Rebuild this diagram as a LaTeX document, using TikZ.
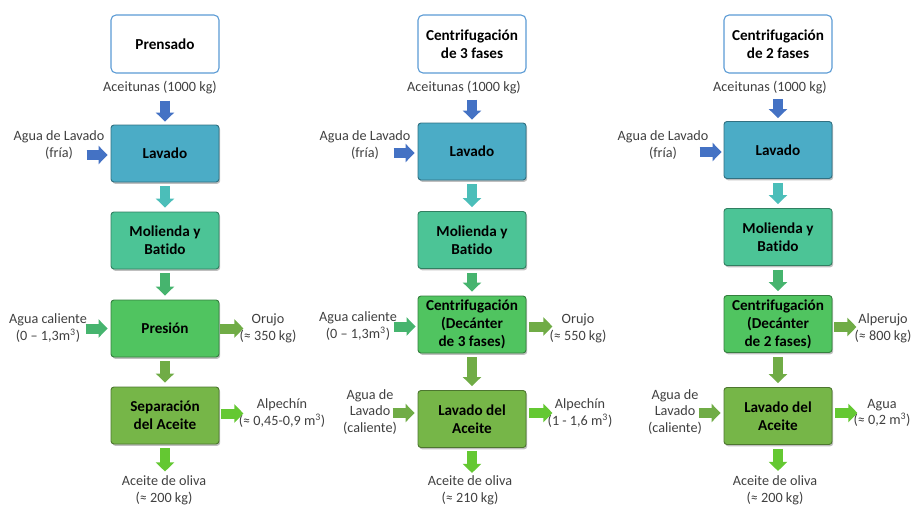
\documentclass[tikz,border=0pt]{standalone}
\usepackage{fontspec}
\setmainfont[Ligatures={NoCommon}]{Carlito}
\usetikzlibrary{arrows.meta,shadows}

\definecolor{headblue}{RGB}{91,155,213}
\definecolor{labelgray}{RGB}{64,64,64}
\definecolor{lavC}{RGB}{75,172,198}
\definecolor{molC}{RGB}{76,196,150}
\definecolor{preC}{RGB}{80,196,96}
\definecolor{sepC}{RGB}{118,182,72}
\definecolor{blueA}{RGB}{68,114,196}
\definecolor{tealA}{RGB}{75,190,185}
\definecolor{greenA}{RGB}{70,180,110}
\definecolor{oliveA}{RGB}{112,172,70}
\definecolor{limeA}{RGB}{100,200,50}

\begin{document}
\begin{tikzpicture}[x=1pt,y=-1pt,
  lbl/.style={align=center, inner sep=0pt, text=labelgray,
    font=\fontsize{14.2}{16.8}\selectfont},
  head/.style={draw=headblue, line width=1.1pt, rounded corners=5pt, fill=white,
    minimum width=108pt, minimum height=58pt, align=center,
    font=\fontsize{15.2}{18}\selectfont\bfseries},
  stepbox/.style={rounded corners=3pt, minimum width=108pt, minimum height=57pt,
    align=center, font=\fontsize{15.2}{18}\selectfont\bfseries,
    fill=#1, draw=#1!65!black, line width=0.9pt,
    drop shadow={shadow xshift=1.2pt, shadow yshift=-1.8pt, opacity=0.5}},
  flow/.style={draw=#1, line width=10pt, -{Triangle[length=9pt,width=18pt]}}
]
\useasboundingbox (0,0) rectangle (914,506);

% ---------------- Prensado ----------------
\node[head] (h1) at (165,44) {Prensado};
\node[lbl] (in1) at (160,88) {Aceitunas (1000 kg)};
\node[stepbox=lavC] (lav1) at (165,153.5) {Lavado};
\node[lbl] (wa1) at (59,145) {Agua de Lavado\\(fría)};
\node[stepbox=molC] (mol1) at (165,240.5) {Molienda y\\Batido};
\node[stepbox=preC] (pre1) at (165,328.5) {Presión};
\node[lbl] (ac1) at (48,328) {Agua caliente\\(0 – 1,3m\textsuperscript{3})};
\node[lbl] (or1) at (268,328) {Orujo\\(≈ 350 kg)};
\node[stepbox=sepC] (sep1) at (165,415.5) {Separación\\del Aceite};
\node[lbl] (al1) at (282,413) {Alpechín\\(≈ 0,45-0,9 m\textsuperscript{3})};
\node[lbl] (ao1) at (164,490) {Aceite de oliva\\(≈ 200 kg)};

\draw[flow=blueA] ([yshift=24pt]lav1.north) -- ([yshift=3pt]lav1.north);
\draw[flow=blueA] ([xshift=-24pt,yshift=-1.5pt]lav1.west) -- ([xshift=-3pt,yshift=-1.5pt]lav1.west);
\draw[flow=tealA] ([yshift=-4pt]lav1.south) -- ([yshift=4pt]mol1.north);
\draw[flow=greenA] ([yshift=-4pt]mol1.south) -- ([yshift=4pt]pre1.north);
\draw[flow=greenA] ([xshift=-25pt]pre1.west) -- ([xshift=-3pt]pre1.west);
\draw[flow=oliveA] ([xshift=1pt]pre1.east) -- ([xshift=24pt]pre1.east);
\draw[flow=oliveA] ([yshift=-4pt]pre1.south) -- ([yshift=4pt]sep1.north);
\draw[flow=limeA] ([xshift=2pt,yshift=2pt]sep1.east) -- ([xshift=24pt,yshift=2pt]sep1.east);
\draw[flow=limeA] ([yshift=-4pt]sep1.south) -- ([yshift=-27pt]sep1.south);

% ---------------- Centrifugación de 3 fases ----------------
\node[head] (h2) at (472,44) {Centrifugación\\de 3 fases};
\node[lbl] (in2) at (464,88) {Aceitunas (1000 kg)};
\node[stepbox=lavC] (lav2) at (472,151.5) {Lavado};
\node[lbl] (wa2) at (365,145) {Agua de Lavado\\(fría)};
\node[stepbox=molC] (mol2) at (472,240) {Molienda y\\Batido};
\node[stepbox=preC] (cen2) at (472,324.5) {Centrifugación\\(Decánter\\de 3 fases)};
\node[lbl] (ac2) at (358,326) {Agua caliente\\(0 – 1,3m\textsuperscript{3})};
\node[lbl] (or2) at (578,328) {Orujo\\(≈ 550 kg)};
\node[stepbox=sepC] (lva2) at (472,419) {Lavado del\\Aceite};
\node[lbl] (wl2) at (370,412) {Agua de\\Lavado\\(caliente)};
\node[lbl] (al2) at (580,413) {Alpechín\\(1 - 1,6 m\textsuperscript{3})};
\node[lbl] (ao2) at (470,490) {Aceite de oliva\\(≈ 210 kg)};

\draw[flow=blueA] ([yshift=23pt]lav2.north) -- ([yshift=3pt]lav2.north);
\draw[flow=blueA] ([xshift=-24pt,yshift=-1.5pt]lav2.west) -- ([xshift=-3pt,yshift=-1.5pt]lav2.west);
\draw[flow=tealA] ([yshift=-4pt]lav2.south) -- ([yshift=4pt]mol2.north);
\draw[flow=greenA] ([yshift=-4pt]mol2.south) -- ([yshift=4pt]cen2.north);
\draw[flow=greenA] ([xshift=-24pt,yshift=-2pt]cen2.west) -- ([xshift=-2pt,yshift=-2pt]cen2.west);
\draw[flow=oliveA] ([xshift=3pt,yshift=-2pt]cen2.east) -- ([xshift=26pt,yshift=-2pt]cen2.east);
\draw[flow=oliveA] ([yshift=-4pt]cen2.south) -- ([yshift=4pt]lva2.north);
\draw[flow=oliveA] ([xshift=-25pt,yshift=6pt]lva2.west) -- ([xshift=-3pt,yshift=6pt]lva2.west);
\draw[flow=limeA] ([xshift=3pt,yshift=6pt]lva2.east) -- ([xshift=26pt,yshift=6pt]lva2.east);
\draw[flow=limeA] ([yshift=-3pt]lva2.south) -- ([yshift=-25pt]lva2.south);

% ---------------- Centrifugación de 2 fases ----------------
\node[head] (h3) at (778,44) {Centrifugación\\de 2 fases};
\node[lbl] (in3) at (770,88) {Aceitunas (1000 kg)};
\node[stepbox=lavC] (lav3) at (778,150) {Lavado};
\node[lbl] (wa3) at (663,145) {Agua de Lavado\\(fría)};
\node[stepbox=molC] (mol3) at (778,237) {Molienda y\\Batido};
\node[stepbox=preC] (cen3) at (778,324) {Centrifugación\\(Decánter\\de 2 fases)};
\node[lbl] (ap3) at (883,328) {Alperujo\\(≈ 800 kg)};
\node[stepbox=sepC] (lva3) at (778,416) {Lavado del\\Aceite};
\node[lbl] (wl3) at (675,412) {Agua de\\Lavado\\(caliente)};
\node[lbl] (ag3) at (882,413) {Agua\\(≈ 0,2 m\textsuperscript{3})};
\node[lbl] (ao3) at (775,490) {Aceite de oliva\\(≈ 200 kg)};

\draw[flow=blueA] ([yshift=22pt]lav3.north) -- ([yshift=3pt]lav3.north);
\draw[flow=blueA] ([xshift=-24pt,yshift=-2pt]lav3.west) -- ([xshift=-2pt,yshift=-2pt]lav3.west);
\draw[flow=tealA] ([yshift=-4pt]lav3.south) -- ([yshift=4pt]mol3.north);
\draw[flow=greenA] ([yshift=-4pt]mol3.south) -- ([yshift=4pt]cen3.north);
\draw[flow=oliveA] ([xshift=2pt,yshift=-3pt]cen3.east) -- ([xshift=24pt,yshift=-3pt]cen3.east);
\draw[flow=oliveA] ([yshift=-4pt]cen3.south) -- ([yshift=4pt]lva3.north);
\draw[flow=oliveA] ([xshift=-25pt,yshift=3pt]lva3.west) -- ([xshift=-3pt,yshift=3pt]lva3.west);
\draw[flow=limeA] ([xshift=3pt,yshift=3pt]lva3.east) -- ([xshift=25pt,yshift=3pt]lva3.east);
\draw[flow=limeA] ([yshift=-4pt]lva3.south) -- ([yshift=-26pt]lva3.south);
\end{tikzpicture}
\end{document}
